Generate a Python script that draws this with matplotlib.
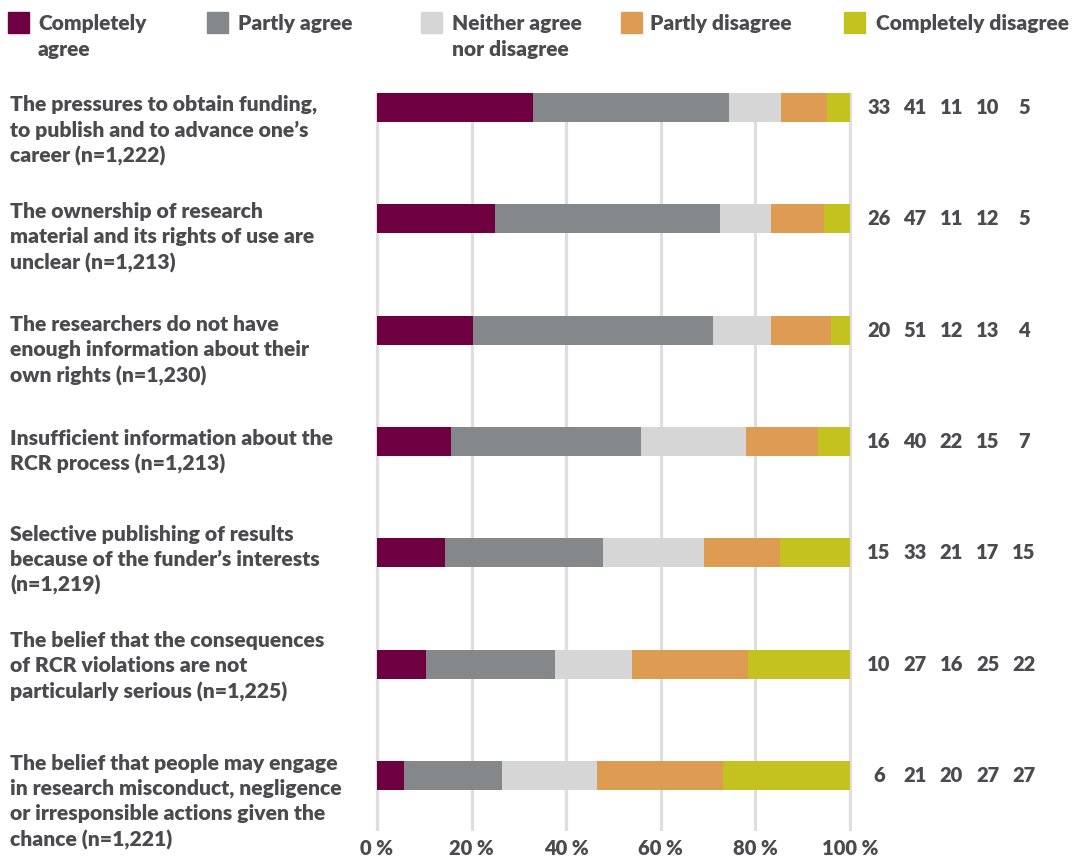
import matplotlib
matplotlib.use("Agg")
import matplotlib.pyplot as plt
from matplotlib import font_manager
from matplotlib.patches import Rectangle
from matplotlib.transforms import blended_transform_factory
import numpy as np


def pick_font(names):
    for name in names:
        try:
            font_manager.findfont(font_manager.FontProperties(family=name), fallback_to_default=False)
            return name
        except Exception:
            continue
    return "DejaVu Sans"


BODY_FONT = pick_font(["Lato", "Open Sans", "DejaVu Sans"])
WEIGHT = "heavy"

CATEGORIES = [
    "The pressures to obtain funding,\nto publish and to advance one\u2019s\ncareer (n=1,222)",
    "The ownership of research\nmaterial and its rights of use are\nunclear (n=1,213)",
    "The researchers do not have\nenough information about their\nown rights (n=1,230)",
    "Insufficient information about the\nRCR process (n=1,213)",
    "Selective publishing of results\nbecause of the funder\u2019s interests\n(n=1,219)",
    "The belief that the consequences\nof RCR violations are not\nparticularly serious (n=1,225)",
    "The belief that people may engage\nin research misconduct, negligence\nor irresponsible actions given the\nchance (n=1,221)",
]

SERIES = ["Completely\nagree", "Partly agree", "Neither agree\nnor disagree",
          "Partly disagree", "Completely disagree"]
COLORS = ["#6e0042", "#85888a", "#d6d6d6", "#de9b52", "#c3c21f"]

# bar lengths (percent)
completely_agree = [33.0, 24.9, 20.3, 15.6, 14.3, 10.3, 5.8]
partly_agree = [41.4, 47.6, 50.8, 40.2, 33.5, 27.4, 20.6]
neither = [10.9, 10.7, 12.1, 22.1, 21.4, 16.2, 20.2]
partly_disagree = [9.9, 11.3, 12.7, 15.4, 16.0, 24.6, 26.6]
completely_disagree = [4.8, 5.5, 4.1, 6.7, 14.8, 21.5, 26.8]

# printed figures to the right of the bars
shown_completely_agree = [33, 26, 20, 16, 15, 10, 6]
shown_partly_agree = [41, 47, 51, 40, 33, 27, 21]
shown_neither = [11, 11, 12, 22, 21, 16, 20]
shown_partly_disagree = [10, 12, 13, 15, 17, 25, 27]
shown_completely_disagree = [5, 5, 4, 7, 15, 22, 27]

TICKS = [0, 20, 40, 60, 80, 100]
TEXT = "#4b4b4d"

# how far (px) each label block sits above its bar
LABEL_LIFT = [1, 5, 3, 1, 16, 21, 10]

values = [completely_agree, partly_agree, neither, partly_disagree, completely_disagree]
shown = [shown_completely_agree, shown_partly_agree, shown_neither,
         shown_partly_disagree, shown_completely_disagree]

W, H = 1083, 856
ROW_PX = 111.5
fig = plt.figure(figsize=(W / 100, H / 100), dpi=100)
ax = fig.add_axes([375 / W, (H - 831) / H, 477 / W, 738 / H])

y = np.arange(len(CATEGORIES))
left = np.zeros(len(CATEGORIES))
for vals, color in zip(values, COLORS):
    ax.barh(y, vals, left=left, height=0.26, color=color, zorder=3)
    left += np.asarray(vals)

for t in TICKS:
    ax.axvline(t, color="#dedede", lw=2.3, zorder=1)

ax.set_xlim(-0.4, 100.4)
ax.set_ylim(6.5, -0.13)
ax.set_xticks(TICKS)
ax.set_xticklabels([f"{t} %" for t in TICKS], fontsize=14.5, fontweight=WEIGHT,
                   color=TEXT, family=BODY_FONT)
ax.tick_params(axis="x", length=0, pad=5.5)
ax.set_yticks([])
for s in ax.spines.values():
    s.set_visible(False)

# printed percentages
for i in range(len(CATEGORIES)):
    for j, col in enumerate(shown):
        ax.text(106.1 + 7.65 * j, y[i], str(col[i]), ha="center", va="center",
                fontsize=14.5, fontweight=WEIGHT, color=TEXT, family=BODY_FONT,
                clip_on=False)

# category labels
tr = blended_transform_factory(fig.transFigure, ax.transData)
for i, label in enumerate(CATEGORIES):
    ax.text(10 / W, y[i] - 0.105 - LABEL_LIFT[i] / ROW_PX, label, transform=tr,
            ha="left", va="top", fontsize=15.2, fontweight=WEIGHT, color=TEXT,
            family=BODY_FONT, linespacing=1.38)

# legend
sq_x = [8, 207, 421, 621, 844]
tx_x = [38, 238, 452, 650, 876]
for name, color, sx, tx in zip(SERIES, COLORS, sq_x, tx_x):
    fig.add_artist(Rectangle((sx / W, (H - 33) / H), 21 / W, 21 / H,
                             transform=fig.transFigure, color=color))
    fig.text(tx / W, (H - 14) / H, name, ha="left", va="top", fontsize=15,
             fontweight=WEIGHT, color=TEXT, family=BODY_FONT, linespacing=1.42)

fig.savefig("out.png", dpi=100)
